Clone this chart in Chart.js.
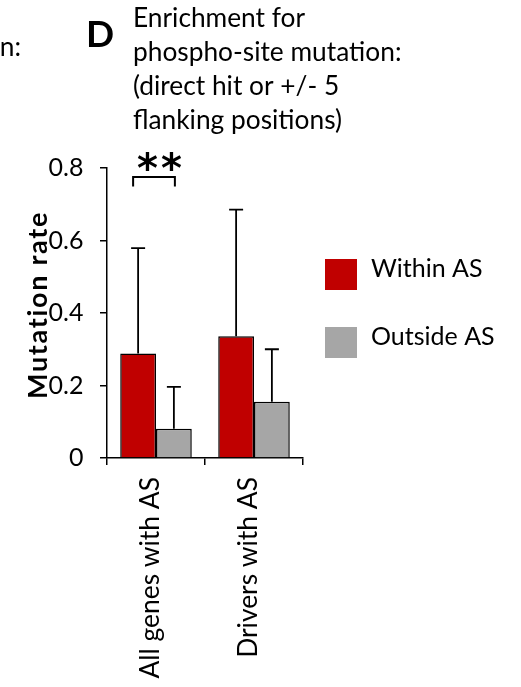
<!DOCTYPE html>
<html>
<head>
<meta charset="utf-8">
<script src="https://cdn.jsdelivr.net/npm/chart.js@4/dist/chart.umd.min.js"></script>
<style>
  html, body { margin: 0; padding: 0; background: #fff; }
  #wrap { width: 521px; height: 687px; }
</style>
</head>
<body>
<div id="wrap"><canvas id="c" width="521" height="687"></canvas></div>
<script>
// Categories and series
const categories = ['All genes with AS', 'Drivers with AS'];
const seriesNames = ['Within AS', 'Outside AS'];
const withinAS = [0.288, 0.336];
const outsideAS = [0.081, 0.155];
// Upper error amounts (added on top of each bar)
const withinErr = [0.291, 0.349];
const outsideErr = [0.115, 0.145];
const yTicks = [0, 0.2, 0.4, 0.6, 0.8];

// Panel text
const panelLetter = 'D';
const titleLines = ['Enrichment for', 'phospho-site mutation:', '(direct hit or +/- 5', 'flanking positions)'];
const neighbourText = 'mutation:';
const yTitle = 'Mutation rate';
const significance = '**';
const bracketTop = 0.775;
const bracketFoot = 0.749;
const starLevel = 0.82;

const RED = '#C00000';
const GREY = '#A6A6A6';
const FONT = 'Lato';

// Error bars (upper only)
const errorBars = {
  id: 'errorBars',
  afterDatasetsDraw(chart) {
    const ctx = chart.ctx;
    const y = chart.scales.y;
    ctx.save();
    ctx.strokeStyle = '#000';
    ctx.lineWidth = 1.8;
    chart.data.datasets.forEach((ds, i) => {
      chart.getDatasetMeta(i).data.forEach((bar, j) => {
        const v = ds.data[j], e = ds.errors[j];
        const y0 = y.getPixelForValue(v);
        const y1 = y.getPixelForValue(v + e);
        ctx.beginPath();
        ctx.moveTo(bar.x, y0);
        ctx.lineTo(bar.x, y1);
        ctx.moveTo(bar.x - 7, y1);
        ctx.lineTo(bar.x + 7, y1);
        ctx.stroke();
      });
    });
    ctx.restore();
  }
};

// Significance bracket between the two bars of the first group
const sigBracket = {
  id: 'sigBracket',
  afterDatasetsDraw(chart) {
    const ctx = chart.ctx;
    const y = chart.scales.y;
    const a = chart.getDatasetMeta(0).data[0];
    const b = chart.getDatasetMeta(1).data[0];
    const left = a.x - 5, right = b.x + 1;
    const yt = y.getPixelForValue(bracketTop);
    const yf = y.getPixelForValue(bracketFoot);
    ctx.save();
    ctx.strokeStyle = '#000';
    ctx.lineWidth = 2;
    ctx.beginPath();
    ctx.moveTo(left, yf);
    ctx.lineTo(left, yt);
    ctx.lineTo(right, yt);
    ctx.lineTo(right, yf);
    ctx.stroke();
    ctx.font = 'bold 40px "DejaVu Sans"';
    ctx.fillStyle = '#000';
    ctx.textAlign = 'center';
    ctx.textBaseline = 'alphabetic';
    ctx.letterSpacing = '3px';
    const m = ctx.measureText(significance);
    const cy = y.getPixelForValue(starLevel);
    ctx.fillText(significance, (left + right) / 2 + 7, cy + (m.actualBoundingBoxAscent - m.actualBoundingBoxDescent) / 2);
    ctx.restore();
  }
};

// Headings, panel letter, axis title and legend
const panelText = {
  id: 'panelText',
  afterDraw(chart) {
    const ctx = chart.ctx;
    ctx.save();
    ctx.fillStyle = '#000';
    ctx.textBaseline = 'alphabetic';
    ctx.textAlign = 'left';
    ctx.font = `26.3px ${FONT}`;
    titleLines.forEach((t, i) => ctx.fillText(t, 133, 27 + i * 33.9));
    ctx.textAlign = 'right';
    ctx.fillText(neighbourText, 21, 56);
    ctx.textAlign = 'left';
    ctx.font = `bold 37px ${FONT}`;
    ctx.fillText(panelLetter, 86, 47);

    // vertical axis title, centred a little above the plot middle
    ctx.save();
    ctx.font = `bold 27px ${FONT}`;
    ctx.letterSpacing = '1.7px';
    ctx.textAlign = 'center';
    ctx.translate(46.5, 305);
    ctx.rotate(-Math.PI / 2);
    ctx.fillText(yTitle, 0, 0);
    ctx.restore();

    // legend
    ctx.font = `25px ${FONT}`;
    ctx.textBaseline = 'alphabetic';
    chart.data.datasets.forEach((ds, i) => {
      const top = 259 + i * 68;
      ctx.fillStyle = ds.backgroundColor;
      ctx.fillRect(325, top, 32, 31);
      ctx.fillStyle = '#000';
      ctx.fillText(ds.label, 371, top + 18);
    });
    ctx.restore();
  }
};

new Chart(document.getElementById('c'), {
  type: 'bar',
  data: {
    labels: categories,
    datasets: [
      { label: seriesNames[0], data: withinAS, errors: withinErr, backgroundColor: RED,
        borderColor: '#000', borderWidth: 1.5, barPercentage: 1, categoryPercentage: 0.73 },
      { label: seriesNames[1], data: outsideAS, errors: outsideErr, backgroundColor: GREY,
        borderColor: '#000', borderWidth: 1.5, barPercentage: 1, categoryPercentage: 0.73 }
    ]
  },
  options: {
    responsive: false,
    devicePixelRatio: 1,
    animation: false,
    layout: { padding: { top: 168, right: 218, bottom: 0, left: 0 } },
    plugins: { legend: { display: false }, tooltip: { enabled: false }, title: { display: false } },
    scales: {
      x: {
        grid: { display: true, drawOnChartArea: false, drawTicks: true, tickLength: 7, offset: true,
                color: '#000', lineWidth: 1.5 },
        border: { display: true, color: '#000', width: 1.5 },
        ticks: { minRotation: 90, maxRotation: 90, padding: 12, labelOffset: -6, color: '#000',
                 font: { family: FONT, size: 26.4 } },
        afterFit: s => { s.height = 229; }
      },
      y: {
        min: 0, max: 0.8,
        afterBuildTicks: s => { s.ticks = yTicks.map(v => ({ value: v })); },
        grid: { drawOnChartArea: false, drawTicks: true, tickLength: 7, color: '#000', lineWidth: 1.5 },
        border: { display: true, color: '#000', width: 1.5 },
        ticks: { padding: 16.5, color: '#000', font: { family: FONT, size: 25 } },
        afterFit: s => { s.width = 107; }
      }
    }
  },
  plugins: [errorBars, sigBracket, panelText]
});
</script>
</body>
</html>
